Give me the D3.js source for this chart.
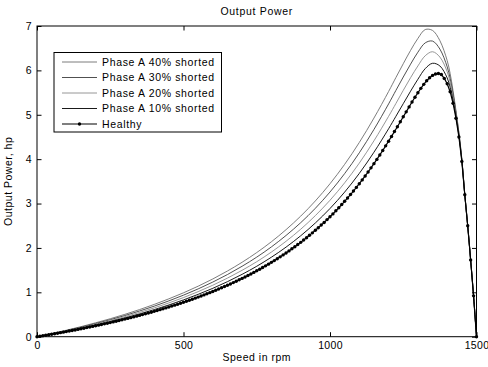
<!DOCTYPE html>
<html><head><meta charset="utf-8">
<script src="https://cdn.jsdelivr.net/npm/d3@7/dist/d3.min.js"></script>
<style>
html,body{margin:0;padding:0;background:#fff;}
svg{display:block;font-family:"Liberation Sans",Arial,Helvetica,sans-serif;}
</style></head>
<body><svg id="c" width="488" height="367"></svg>
<script>
// ---- data ----
const healthySpeed = d3.range(0, 1501, 10);
const healthy = [0,0.011,0.022,0.033,0.044,0.056,0.067,0.079,0.091,0.103,
0.115,0.127,0.140,0.152,0.165,0.178,0.191,0.205,0.218,0.232,
0.246,0.260,0.274,0.289,0.303,0.318,0.333,0.349,0.364,0.380,
0.396,0.412,0.429,0.446,0.463,0.480,0.498,0.516,0.534,0.552,
0.571,0.590,0.609,0.629,0.649,0.669,0.690,0.711,0.732,0.754,
0.776,0.798,0.821,0.844,0.868,0.892,0.917,0.942,0.967,0.993,
1.020,1.047,1.074,1.102,1.130,1.160,1.189,1.219,1.250,1.282,
1.314,1.346,1.380,1.414,1.449,1.485,1.521,1.559,1.596,1.635,
1.675,1.715,1.757,1.799,1.843,1.887,1.933,1.980,2.028,2.076,
2.126,2.177,2.231,2.284,2.340,2.397,2.454,2.515,2.574,2.638,
2.702,2.767,2.836,2.905,2.977,3.050,3.126,3.203,3.282,3.364,
3.447,3.533,3.621,3.711,3.804,3.899,3.995,4.095,4.196,4.300,
4.405,4.512,4.622,4.731,4.843,4.954,5.066,5.177,5.287,5.394,
5.497,5.595,5.685,5.767,5.834,5.887,5.920,5.929,5.907,5.820,
5.700,5.520,5.260,4.920,4.500,3.950,3.200,2.500,1.730,0.920,0];

const faultSpeed = [0,50,100,150,200,250,300,350,400,450,500,550,600,650,700,750,800,850,900,950,1000,1050,1100,1150,1200,
1225,1250,1275,1300,1325,1350,1375,1400,1410,1420,1430,1440,1450,1460,1470,1480,1490,1500];
const shorted40 = [0,0.071,0.146,0.226,0.313,0.405,0.504,0.611,0.727,0.853,0.989,1.138,1.301,1.480,1.677,1.896,2.139,2.412,2.716,3.059,3.446,3.883,4.376,4.926,5.524,
5.840,6.150,6.450,6.720,6.920,6.900,6.670,6.220,5.930,5.540,5.090,4.600,4.000,3.200,2.500,1.730,0.920,0];
const shorted30 = [0,0.067,0.138,0.214,0.296,0.383,0.477,0.579,0.688,0.807,0.936,1.077,1.231,1.400,1.587,1.793,2.023,2.281,2.568,2.893,3.260,3.675,4.143,4.669,5.245,
5.550,5.850,6.140,6.410,6.620,6.660,6.480,6.080,5.820,5.470,5.050,4.580,3.990,3.200,2.500,1.730,0.920,0];
const shorted20 = [0,0.063,0.130,0.202,0.279,0.362,0.450,0.546,0.649,0.761,0.882,1.015,1.160,1.320,1.496,1.690,1.907,2.150,2.421,2.728,3.074,3.467,3.911,4.413,4.965,
5.255,5.550,5.835,6.100,6.330,6.420,6.300,5.970,5.730,5.400,5.010,4.550,3.980,3.200,2.500,1.730,0.920,0];
const shorted10 = [0,0.059,0.123,0.190,0.262,0.340,0.423,0.513,0.610,0.715,0.829,0.954,1.090,1.240,1.405,1.587,1.791,2.018,2.274,2.562,2.888,3.258,3.679,4.156,4.685,
4.966,5.250,5.531,5.800,6.040,6.160,6.100,5.830,5.620,5.320,4.960,4.530,3.960,3.200,2.500,1.730,0.920,0];

const legendLabels = ["Phase A 40% shorted","Phase A 30% shorted","Phase A 20% shorted","Phase A 10% shorted","Healthy"];
const xTicks = [0,500,1000,1500];
const yTicks = [0,1,2,3,4,5,6,7];

// ---- drawing ----
const svg = d3.select("#c");
const L = 37, R = 476.5, T = 26, B = 336.7;
const x = d3.scaleLinear().domain([0,1500]).range([L,R]);
const y = d3.scaleLinear().domain([0,7]).range([B,T]);

const series = [
  {vals: shorted40, color:"#6e6e6e", w:0.9},
  {vals: shorted30, color:"#3c3c3c", w:0.9},
  {vals: shorted20, color:"#8a8a8a", w:0.9},
  {vals: shorted10, color:"#000000", w:0.9}
];
const lineF = d3.line().x((d,i)=>x(faultSpeed[i])).y(d=>y(d)).curve(d3.curveCatmullRom.alpha(0.5));
series.forEach(s=>{
  svg.append("path").attr("d", lineF(s.vals)).attr("fill","none")
    .attr("stroke", s.color).attr("stroke-width", s.w);
});
const lineH = d3.line().x((d,i)=>x(healthySpeed[i])).y(d=>y(d));
svg.append("path").attr("d", lineH(healthy)).attr("fill","none").attr("stroke","#000").attr("stroke-width",1.2);
svg.append("g").selectAll("circle").data(healthy).join("circle")
  .attr("cx",(d,i)=>x(healthySpeed[i])).attr("cy",d=>y(d)).attr("r",1.7).attr("fill","#000");

// axes (MATLAB-like box with inward ticks)
const fs = "10.5px";
const ax = (g)=>{ g.select(".domain").remove(); g.selectAll("line").attr("stroke","#000"); g.selectAll("text").attr("font-size",fs).attr("fill","#000").attr("font-family","Liberation Sans, Arial, sans-serif").attr("letter-spacing","0.3px"); };
svg.append("g").attr("transform",`translate(0,${B})`)
  .call(d3.axisBottom(x).tickValues(xTicks).tickFormat(d3.format("d")).tickSizeInner(-4.5).tickSizeOuter(0).tickPadding(5)).call(ax);
svg.append("g").attr("transform",`translate(0,${T})`)
  .call(d3.axisTop(x).tickValues(xTicks).tickFormat("").tickSizeInner(-4.5).tickSizeOuter(0)).call(ax);
svg.append("g").attr("transform",`translate(${L},0)`)
  .call(d3.axisLeft(y).tickValues(yTicks).tickFormat(d3.format("d")).tickSizeInner(-4.5).tickSizeOuter(0).tickPadding(5)).call(ax);
svg.append("g").attr("transform",`translate(${R},0)`)
  .call(d3.axisRight(y).tickValues(yTicks).tickFormat("").tickSizeInner(-4.5).tickSizeOuter(0)).call(ax);
svg.append("rect").attr("x",L).attr("y",T).attr("width",R-L).attr("height",B-T)
  .attr("fill","none").attr("stroke","#000").attr("stroke-width",1);

// titles
svg.append("text").attr("x",(L+R)/2).attr("y",15).attr("text-anchor","middle").attr("font-size","10.5px").attr("letter-spacing","0.7px").text("Output Power");
svg.append("text").attr("x",(L+R)/2).attr("y",361).attr("text-anchor","middle").attr("font-size","10.5px").attr("letter-spacing","0.5px").text("Speed in rpm");
svg.append("text").attr("transform",`translate(12,${(T+B)/2}) rotate(-90)`).attr("text-anchor","middle").attr("font-size","10.5px").attr("letter-spacing","0.5px").text("Output Power, hp");

// legend
const lg = svg.append("g");
lg.append("rect").attr("x",54).attr("y",52.5).attr("width",167.5).attr("height",79.5).attr("fill","#fff").attr("stroke","#000").attr("stroke-width",1);
const rowY = [62,77.5,93,108.5,124];
const legStyles = series.map(s=>({color:s.color,w:s.w})).concat([{color:"#000",w:1.2}]);
legendLabels.forEach((t,i)=>{
  lg.append("line").attr("x1",62).attr("x2",97).attr("y1",rowY[i]).attr("y2",rowY[i])
    .attr("stroke",legStyles[i].color).attr("stroke-width",legStyles[i].w);
  lg.append("text").attr("x",102).attr("y",rowY[i]).attr("dy","0.36em").attr("font-size","10.5px").attr("letter-spacing","0.65px").text(t);
});
lg.append("circle").attr("cx",79.5).attr("cy",rowY[4]).attr("r",1.7).attr("fill","#000");
</script></body></html>
